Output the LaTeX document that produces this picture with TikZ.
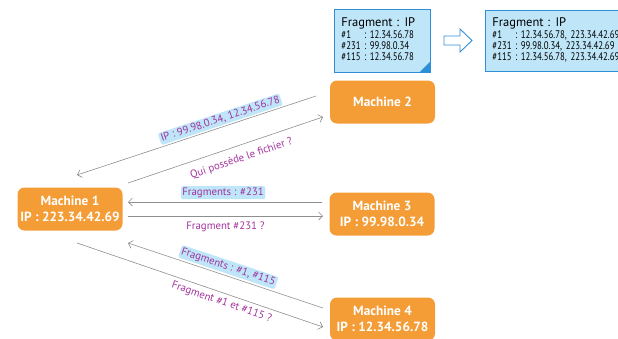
\documentclass[tikz,border=0pt]{standalone}
\usepackage{fontspec}
\setmainfont{PT Sans}
\newfontfamily\notefont{PT Sans}[FakeStretch=0.8]
\usepackage{tikz}
\usetikzlibrary{arrows.meta}

\definecolor{machorange}{HTML}{F49D37}
\definecolor{noteblue}{HTML}{BEE5F8}
\definecolor{noteborder}{HTML}{2F8ED8}
\definecolor{msgpurple}{HTML}{A2329E}
\definecolor{linegray}{HTML}{8E8E8E}

\newcommand{\notehead}{\multicolumn{2}{@{}l@{}}{\rmfamily\fontsize{12.5}{12}\selectfont Fragment : IP}}

\begin{document}
\begin{tikzpicture}[x=1pt,y=-1pt,
    machine/.style={fill=machorange,rounded corners=7pt,minimum width=105pt,minimum height=43pt,
        text=white,align=center,inner sep=2pt,font=\bfseries\fontsize{13.3}{16}\selectfont},
    msg/.style={draw=linegray,line width=0.6pt,-{Straight Barb[length=4pt,width=8pt]}},
    lbl/.style={text=msgpurple,inner sep=1pt,font=\fontsize{10.8}{12}\selectfont},
    hilite/.style={lbl,fill=noteblue,rounded corners=2pt,inner sep=1.5pt},
    note/.style={draw=noteborder,fill=noteblue,line width=0.9pt,anchor=north west,align=left,
        inner xsep=7pt,inner ysep=2pt,font=\notefont\fontsize{11}{11.3}\selectfont}]
    \useasboundingbox (0,0) rectangle (618,338);
    \clip (0,0) rectangle (618,338);

    \node[note,text width=82pt,minimum height=63pt] (notea) at (334,9)
        {\begin{tabular}{@{}l@{\ :\ }l@{}}
         \notehead\\
         \#1 & 12.34.56.78\\
         \#231 & 99.98.0.34\\
         \#115 & 12.34.56.78
         \end{tabular}};
    \fill[noteborder] (notea.south east) -- ++(0,-12) -- ++(-12,12) -- cycle;

    \draw[noteborder,fill=white,line width=0.9pt] (444,36) -- (460,36) -- (460,29) -- (472,40.5)
        -- (460,52) -- (460,45) -- (444,45) -- cycle;

    \node[note,text width=170pt,minimum height=61pt] (noteb) at (485,10)
        {\begin{tabular}{@{}l@{\ :\ }l@{}}
         \notehead\\
         \#1 & 12.34.56.78, 223.34.42.69\\
         \#231 & 99.98.0.34, 223.34.42.69\\
         \#115 & 12.34.56.78, 223.34.42.69
         \end{tabular}};

    \node[machine] (m1) at (70,209) {Machine 1\\IP : 223.34.42.69};
    \node[machine] (m2) at (382.5,102) {Machine 2};
    \node[machine] (m3) at (382,214) {Machine 3\\IP : 99.98.0.34};
    \node[machine] (m4) at (382.5,319) {Machine 4\\IP : 12.34.56.78};

    \coordinate (m2out) at (316,96);
    \coordinate (m1inA) at (77,175);
    \coordinate (m1outB) at (128,183);
    \coordinate (m2in) at (323,117);
    \coordinate (m3out) at (322,202);
    \coordinate (m1inC) at (128,202);
    \coordinate (m1outD) at (128,216);
    \coordinate (m3in) at (323,216);
    \coordinate (m4out) at (323,308);
    \coordinate (m1inE) at (128,243);
    \coordinate (m1outF) at (77,243);
    \coordinate (m4in) at (323,327);

    \draw[msg] (m2out) -- node[hilite,sloped,above=1.5pt,pos=0.39] (repa) {IP : 99.98.0.34, 12.34.56.78} (m1inA);
    \draw[msg] (m1outB) -- node[lbl,sloped,below=7pt,pos=0.56] (reqa) {Qui possède le fichier ?} (m2in);
    \draw[msg] (m3out) -- node[hilite,above=2.5pt,pos=0.51] (repb) {Fragments : \#231} (m1inC);
    \draw[msg] (m1outD) -- node[lbl,below=5pt,pos=0.5] (reqb) {Fragment \#231 ?} (m3in);
    \draw[msg] (m4out) -- node[hilite,sloped,above=2pt,pos=0.5] (repc) {Fragments : \#1, \#115} (m1inE);
    \draw[msg] (m1outF) -- node[lbl,sloped,below=3pt,pos=0.6] (reqc) {Fragment \#1 et \#115 ?} (m4in);
\end{tikzpicture}
\end{document}
